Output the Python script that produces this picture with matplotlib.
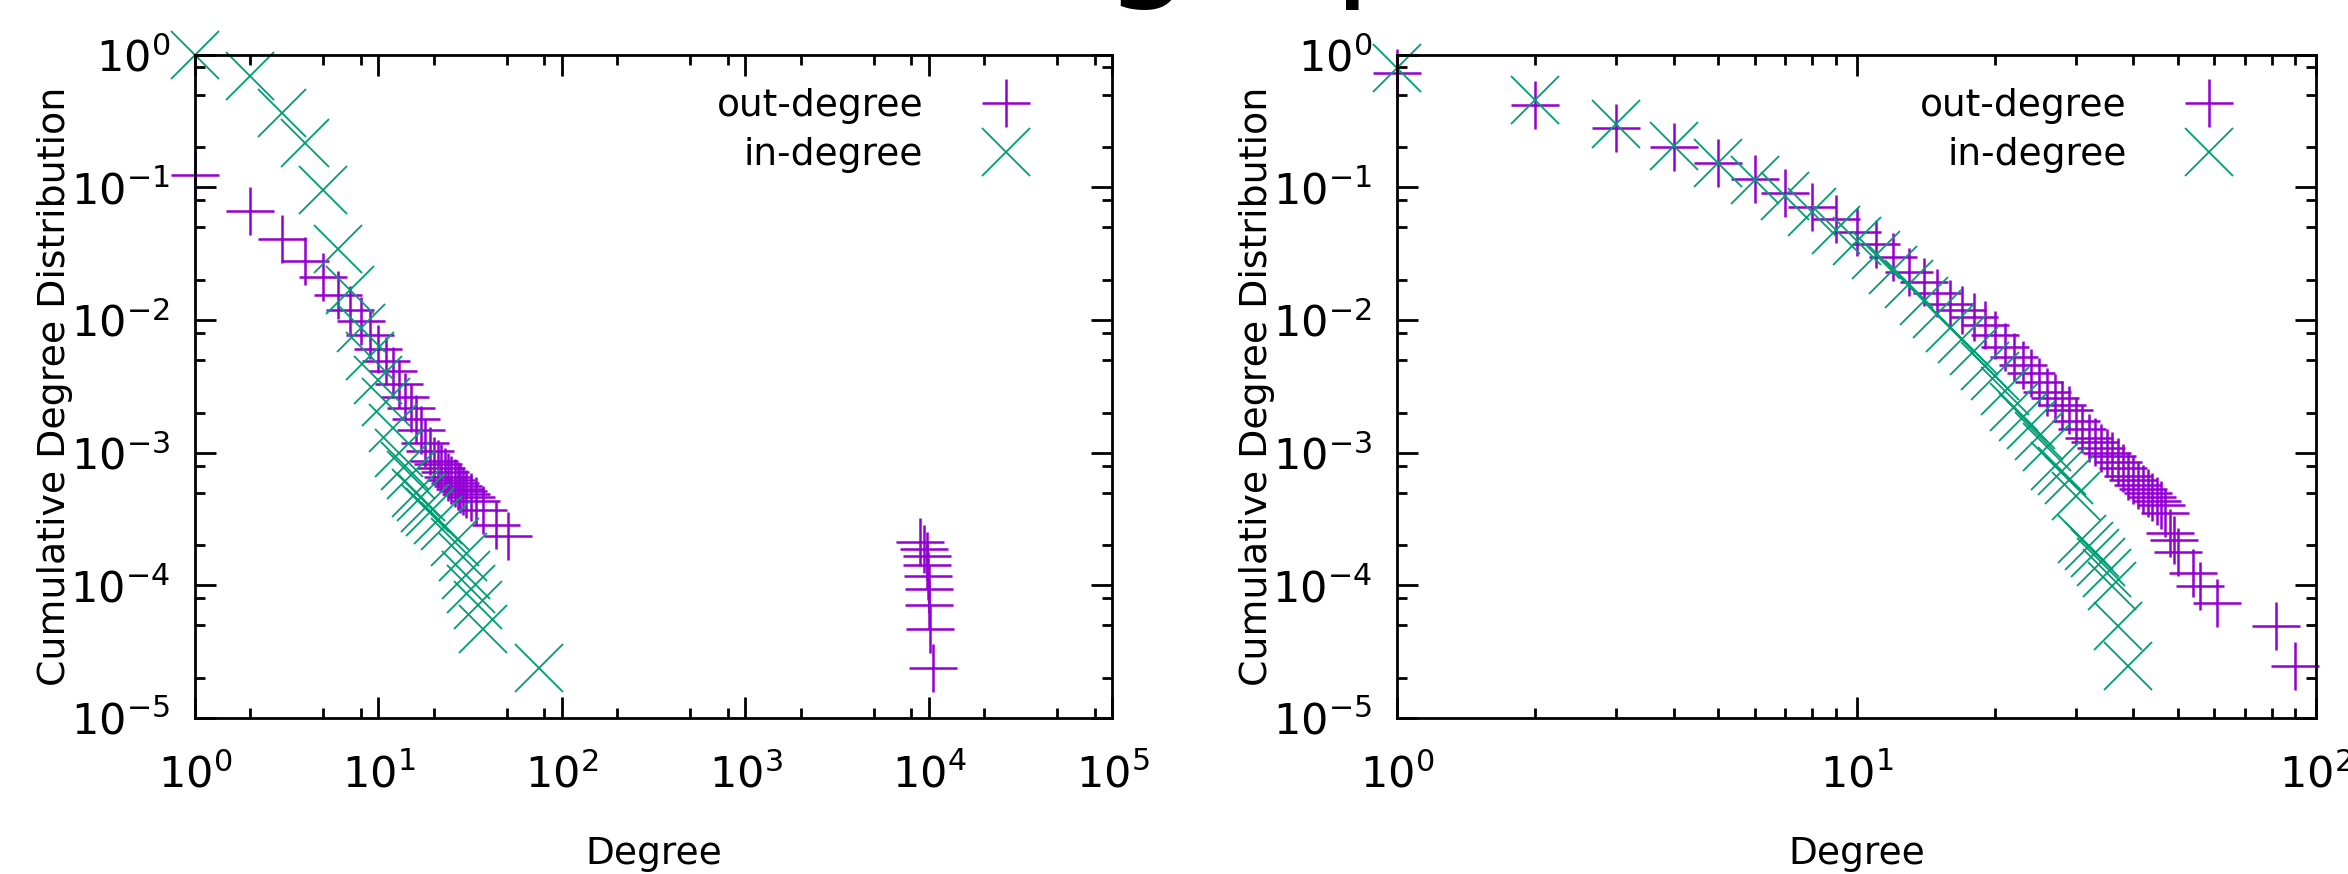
import matplotlib
matplotlib.use("Agg")
import matplotlib.pyplot as plt
from matplotlib.ticker import LogLocator, NullFormatter, LogFormatterMathtext

# left graph: out-degree (purple +) and in-degree (green x)
left_out_deg = [1, 2, 3, 4, 5, 6, 7, 8, 9, 10, 11, 12, 13, 14, 15, 16, 17, 18, 19, 20,
                21, 22, 23, 24, 25, 26, 27, 28, 29, 30, 32, 34, 37, 44, 51,
                8970, 9350, 9710, 9750, 9910, 10000, 10020, 10100, 10470]
left_out_cdf = [0.124, 0.0663, 0.0408, 0.0279, 0.0210, 0.0153, 0.0119, 0.00986, 0.00766, 0.00603,
                0.00493, 0.00413, 0.00327, 0.00262, 0.00217, 0.00180, 0.00148, 0.00119, 0.00103, 0.00087,
                0.00082, 0.00076, 0.00071, 0.00066, 0.00062, 0.00059, 0.00056, 0.00053, 0.00051, 0.00049,
                0.00046, 0.00043, 0.00037, 0.000285, 0.000236,
                2.13e-4, 1.88e-4, 1.66e-4, 1.42e-4, 1.18e-4, 9.4e-5, 7.1e-5, 4.7e-5, 2.4e-5]

left_in_deg = [1, 2, 3, 4, 5, 6, 7, 8, 9, 10, 11, 12, 13, 14, 15, 16, 17, 18, 19,
               21, 23, 26, 29, 30, 32, 35, 37, 75]
left_in_cdf = [1.0, 0.69, 0.365, 0.214, 0.096, 0.0342, 0.0168, 0.00873, 0.00538, 0.0035,
               0.0024, 0.00154, 0.00100, 0.00080, 0.00068, 0.000495, 0.000465, 0.000385, 0.00036,
               0.00031, 0.00028, 0.000211, 0.000164, 0.00012, 9.3e-5, 7.1e-5, 4.65e-5, 2.4e-5]

# right graph
right_out_deg = list(range(1, 51)) + [54, 56, 61, 82, 90]
right_out_cdf = [0.73, 0.417, 0.281, 0.200, 0.152, 0.1155, 0.0911, 0.0714, 0.0577, 0.0463,
                 0.0375, 0.030, 0.0230, 0.0192, 0.0161, 0.0133, 0.0118, 0.0106, 0.0091, 0.0077,
                 0.0063, 0.0053, 0.0046, 0.0040, 0.0034, 0.00285, 0.0026, 0.0023, 0.0021, 0.00174,
                 0.0015, 0.0013, 0.0012, 0.00109, 0.00100, 0.00094, 0.00085, 0.00077, 0.00067, 0.00062,
                 0.00057, 0.00053, 0.00050, 0.00046, 0.00043, 0.00040, 0.00035, 0.00025, 0.00022, 0.000178,
                 0.000123, 9.9e-5, 7.4e-5, 4.93e-5, 2.48e-5]

right_in_deg = list(range(1, 38)) + [39]
right_in_cdf = [0.79, 0.455, 0.298, 0.206, 0.152, 0.1135, 0.0864, 0.0648, 0.0477, 0.0396,
                0.0309, 0.0238, 0.0186, 0.0139, 0.0110, 0.0087, 0.0072, 0.0058, 0.00447, 0.00375,
                0.00289, 0.00222, 0.00186, 0.00161, 0.00133, 0.0011, 0.0008, 0.00073, 0.00062, 0.000475,
                0.000224, 0.000199, 0.000174, 0.000149, 0.000124, 9.9e-5, 4.96e-5, 2.48e-5]

PURPLE = "#9400d3"
GREEN = "#009e73"
FS = 27

plt.rcParams["font.family"] = ["DejaVu Sans"]

fig = plt.figure(figsize=(23.48, 8.74), dpi=100)

# title of the slide, only its descenders are inside the picture
fig.text(1103 / 2348, 1 + 19 / 874, "graph", fontsize=100, ha="left", va="baseline", color="black")


def setup(ax, xmax, xsubs):
    ax.set_xscale("log")
    ax.set_yscale("log")
    ax.set_xlim(1, xmax)
    ax.set_ylim(1e-5, 1)
    ax.xaxis.set_major_locator(LogLocator(base=10, numticks=100))
    ax.xaxis.set_minor_locator(LogLocator(base=10, subs=xsubs, numticks=100))
    ax.xaxis.set_minor_formatter(NullFormatter())
    ax.yaxis.set_major_locator(LogLocator(base=10, numticks=100))
    ax.yaxis.set_minor_locator(LogLocator(base=10, subs=(2, 5, 8), numticks=100))
    ax.yaxis.set_minor_formatter(NullFormatter())
    ax.xaxis.set_major_formatter(LogFormatterMathtext())
    ax.yaxis.set_major_formatter(LogFormatterMathtext())
    ax.tick_params(which="both", direction="in", top=True, right=True, width=2, color="black")
    ax.tick_params(which="major", length=15)
    ax.tick_params(which="minor", length=7.5)
    ax.tick_params(axis="x", which="major", pad=26, labelsize=31)
    ax.tick_params(axis="y", which="major", pad=18, labelsize=31)
    for sp in ax.spines.values():
        sp.set_linewidth(2)
    ax.set_xlabel("Degree", fontsize=FS)
    ax.set_ylabel("Cumulative Degree Distribution", fontsize=FS + 0.3)
    ax.xaxis.set_label_coords(0.5, -0.178)
    ax.yaxis.set_label_coords(-0.133, 0.5)


ax1 = fig.add_axes([0.0830, 0.1785, 0.3908, 0.759])
ax2 = fig.add_axes([0.5950, 0.1785, 0.3914, 0.759])

setup(ax1, 1e5, (2, 5, 8))
setup(ax2, 1e2, (2, 3, 4, 5, 6, 7, 8, 9))

for ax, od, oc, idg, ic in [(ax1, left_out_deg, left_out_cdf, left_in_deg, left_in_cdf),
                            (ax2, right_out_deg, right_out_cdf, right_in_deg, right_in_cdf)]:
    ax.plot(od, oc, linestyle="none", marker="+", markersize=34.6, markeredgewidth=1.8,
            color=PURPLE, label="out-degree", clip_on=False)
    ax.plot(idg, ic, linestyle="none", marker="x", markersize=34.6, markeredgewidth=1.3,
            color=GREEN, label="in-degree", clip_on=False)
    ax.legend(loc="upper right", bbox_to_anchor=(0.91, 0.95), frameon=False, markerfirst=False,
              fontsize=FS, handlelength=1.3, handletextpad=1.55, borderaxespad=0, borderpad=0,
              labelspacing=0.35)

fig.savefig("out.png", dpi=100)
